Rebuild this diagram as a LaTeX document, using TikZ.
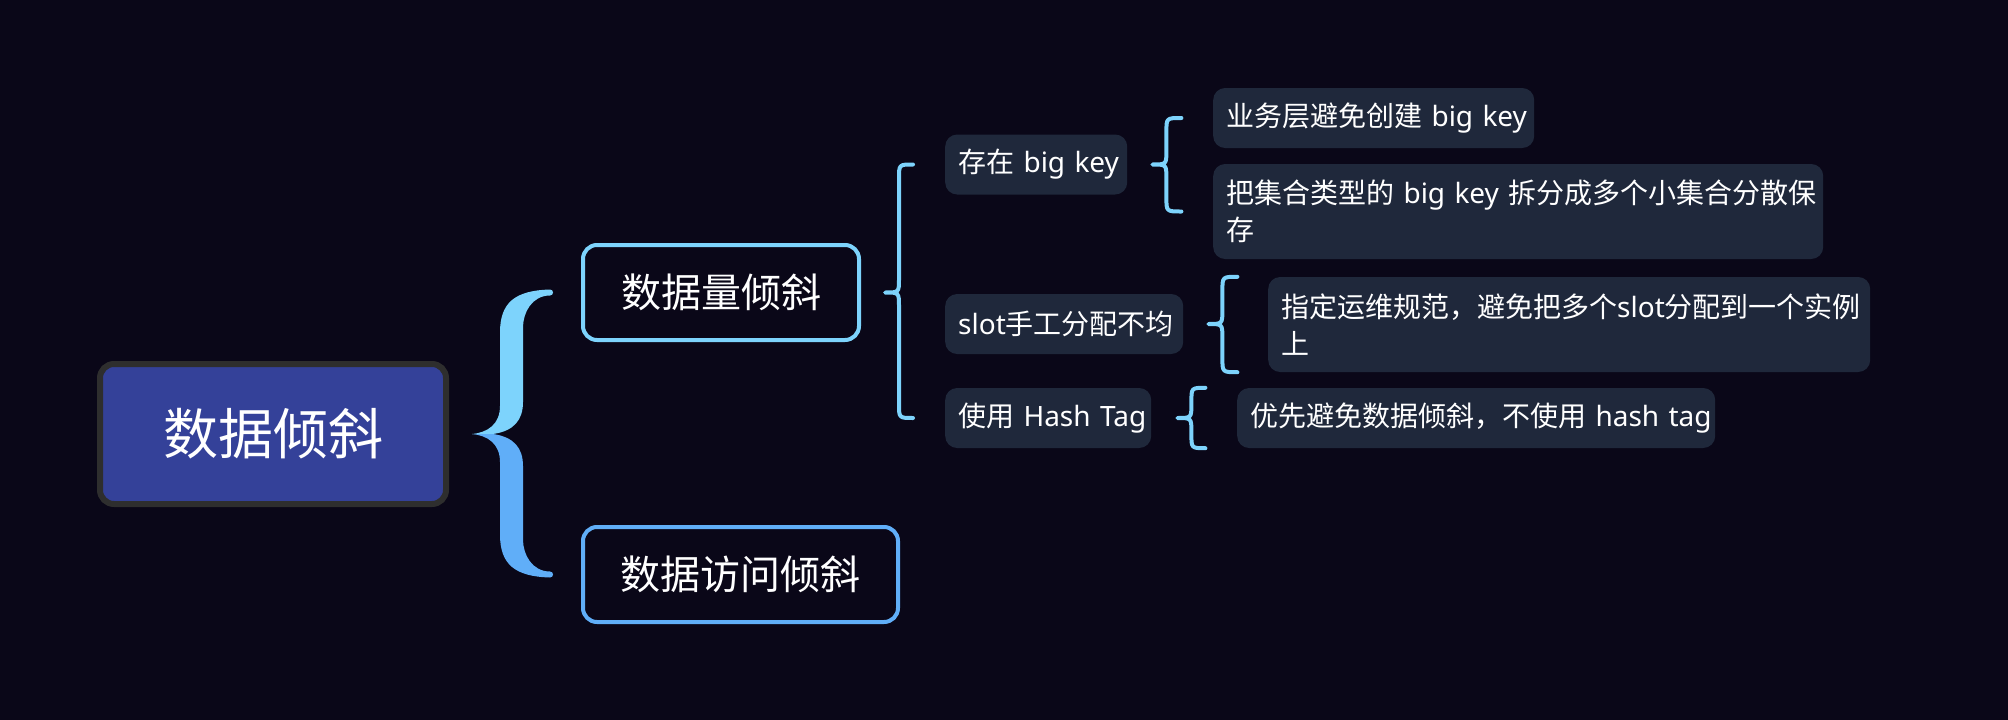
\documentclass[tikz,border=0pt]{standalone}
\usepackage{fontspec}
\setmainfont{Noto Sans CJK SC}
\newfontfamily\lat{Noto Sans}
\usetikzlibrary{calc}
\definecolor{bg}{HTML}{0A0718}
\definecolor{leaf}{HTML}{1F283B}
\definecolor{rootfill}{HTML}{344199}
\definecolor{rootline}{HTML}{2E2E2E}
\definecolor{brA}{HTML}{7DD3FC}
\definecolor{brB}{HTML}{60AEF8}
\newcommand\bracelink[3]{%
  \draw[thinbrace] let \p1=(#1), \p2=(#2), \p3=(#3) in
    (\x2,\y2) .. controls (\x1+14pt,\y2) .. (\x1+14pt,\y2-14pt)
    -- (\x1+14pt,\y1+14pt) .. controls (\x1+14pt,\y1) .. (\x1,\y1)
    .. controls (\x1+14pt,\y1) .. (\x1+14pt,\y1-14pt)
    -- (\x1+14pt,\y3+14pt) .. controls (\x1+14pt,\y3) .. (\x2,\y3);}
\begin{document}
\begin{tikzpicture}[x=1pt,y=-1pt,
  rootbox/.style={fill=rootfill, draw=rootline, line width=6pt, rounded corners=14pt,
    text=white, minimum width=346pt, minimum height=140pt, inner sep=0pt,
    font=\fontsize{55}{60}\selectfont},
  mainbox/.style={fill=bg, line width=4pt, rounded corners=14pt, text=white,
    minimum height=95pt, inner sep=0pt, font=\fontsize{40}{44}\selectfont},
  leafbox/.style={fill=leaf, rounded corners=12pt, text=white, inner xsep=13pt,
    inner ysep=0pt, minimum height=60pt, align=left, anchor=west,
    font=\fontsize{28}{37}\selectfont},
  thinbrace/.style={draw=brA, line width=4pt, line cap=round, line join=round}]
\fill[bg] (0,0) rectangle (2008,720);

% nodes
\node[rootbox] (root) at (273,434) {数据倾斜};
\node[mainbox, draw=brA, minimum width=276pt] (n1) at (721,292.5) {数据量倾斜};
\node[mainbox, draw=brB, minimum width=315pt] (n2) at (740.5,574.5) {数据访问倾斜};

\node[leafbox, text width=156pt] (k1) at (945,164.5) {存在~{\lat big~key}};
\node[leafbox, text width=212pt] (k2) at (945,324) {{\lat slot}手工分配不均};
\node[leafbox, text width=180pt] (k3) at (945,418) {使用~{\lat Hash~Tag}};

\node[leafbox, text width=295pt] (l1) at (1213,118) {业务层避免创建~{\lat big~key}};
\node[leafbox, text width=584pt, minimum height=95pt] (l2) at (1213,211.5)
  {把集合类型的~{\lat big~key}~拆分成多个小集合分散保\\存};
\node[leafbox, text width=576pt, minimum height=95pt] (l3) at (1268,324.5)
  {指定运维规范，避免把多个{\lat slot}分配到一个实例\\上};
\node[leafbox, text width=452pt] (l4) at (1237,418) {优先避免数据倾斜，不使用~{\lat hash~tag}};

% big brace
\coordinate (BT) at ($(root.east)+(23,0)$);
\coordinate (BE) at ($(BT)+(78,0)$);
\fill[brA] let \p1=(BT), \p2=(BE |- n1) in
  (\x2,\y2+3pt)
  .. controls (\x1+43pt,\y2+2pt) and (\x1+28pt,\y2-10pt) .. (\x1+28pt,\y2-40pt)
  -- (\x1+28pt,\y1+28pt)
  .. controls (\x1+28pt,\y1+10pt) and (\x1+16pt,\y1+1.5pt) .. (\x1,\y1)
  -- (\x1+21pt,\y1)
  .. controls (\x1+42pt,\y1+3pt) and (\x1+51pt,\y1+14pt) .. (\x1+51pt,\y1+32pt)
  -- (\x1+51pt,\y2-35pt)
  .. controls (\x1+51pt,\y2-20pt) and (\x1+60pt,\y2-3pt) .. (\x2,\y2-3pt)
  .. controls (\x2+4pt,\y2-3pt) and (\x2+4pt,\y2+3pt) .. (\x2,\y2+3pt) -- cycle;
\fill[brB] let \p1=(BT), \p3=(BE |- n2) in
  (\x3,\y3-3pt)
  .. controls (\x1+43pt,\y3-2pt) and (\x1+28pt,\y3+10pt) .. (\x1+28pt,\y3+40pt)
  -- (\x1+28pt,\y1-28pt)
  .. controls (\x1+28pt,\y1-10pt) and (\x1+16pt,\y1-1.5pt) .. (\x1,\y1)
  -- (\x1+21pt,\y1)
  .. controls (\x1+42pt,\y1-3pt) and (\x1+51pt,\y1-14pt) .. (\x1+51pt,\y1-32pt)
  -- (\x1+51pt,\y3+35pt)
  .. controls (\x1+51pt,\y3+20pt) and (\x1+60pt,\y3+3pt) .. (\x3,\y3+3pt)
  .. controls (\x3+4pt,\y3+3pt) and (\x3+4pt,\y3-3pt) .. (\x3,\y3-3pt) -- cycle;

% thin braces
\coordinate (TA) at ($(n1.east)+(24,0)$);
\coordinate (EA) at ($(TA)+(28,0)$);
\bracelink{TA}{EA |- k1}{EA |- k3}
\coordinate (TB) at ($(k1.east)+(25,0)$);
\coordinate (EB) at ($(TB)+(29,0)$);
\bracelink{TB}{EB |- l1}{EB |- l2}
\coordinate (TC) at ($(k2.east)+(25,0)$);
\coordinate (EC) at ($(TC)+(29,0)$);
\bracelink{TC}{EC |- l3.north}{EC |- l3.south}
\coordinate (TD) at ($(k3.east)+(26,0)$);
\coordinate (ED) at ($(TD)+(28,0)$);
\bracelink{TD}{ED |- l4.north}{ED |- l4.south}
\end{tikzpicture}
\end{document}
